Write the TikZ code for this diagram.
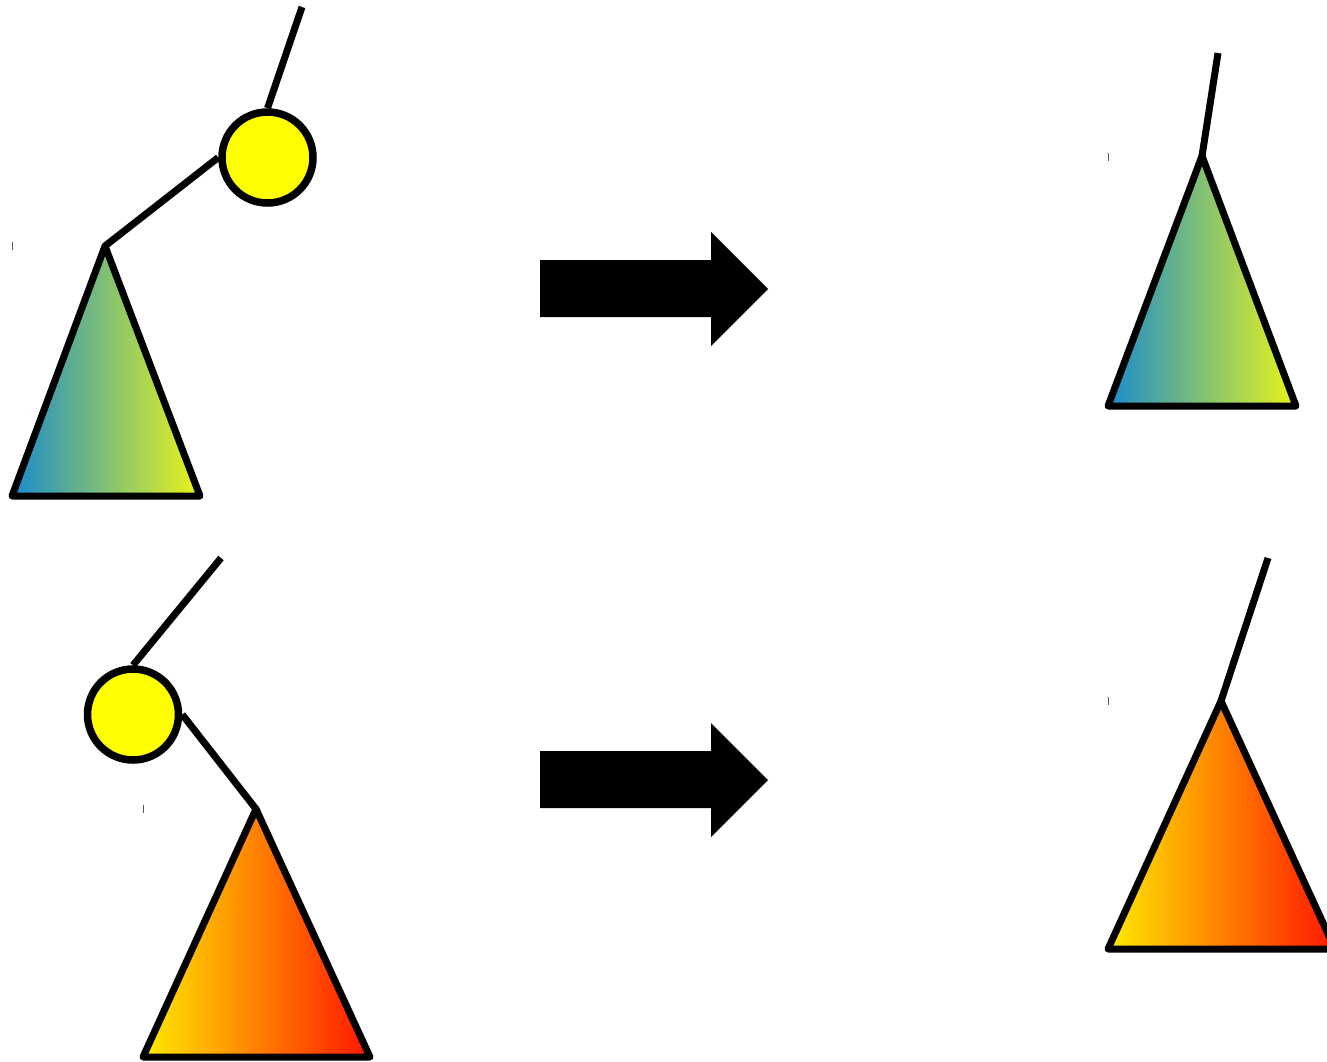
\documentclass[tikz,border=0pt]{standalone}
\definecolor{tblue}{HTML}{1A8CCB}
\definecolor{tgreen}{HTML}{80C75E}
\definecolor{tyellow}{HTML}{EAF41A}
\definecolor{oyellow}{HTML}{FFEA00}
\definecolor{oorange}{HTML}{FF8C00}
\definecolor{ored}{HTML}{FF1600}
\definecolor{ballyellow}{HTML}{FFFF00}
\tikzset{
  edge/.style={line width=7pt, line cap=butt},
  ball/.style={circle, draw, fill=ballyellow, line width=7.5pt, inner sep=0pt, minimum size=91pt},
  bgtri/.style={draw, line width=7pt, line join=round, left color=tblue, middle color=tgreen, right color=tyellow},
  ortri/.style={draw, line width=7pt, line join=round, left color=oyellow, middle color=oorange, right color=ored},
  bigarrow/.style={fill=black},
  tick/.style={draw=gray!70!black, line width=1pt}
}
\begin{document}
\begin{tikzpicture}[x=1pt, y=-1pt]
\useasboundingbox (0,0) rectangle (1327,1061);
\clip (0,0) rectangle (1327,1061);

% ---------- top left ----------
\coordinate (tlend) at (302,7);
\node[ball] (tlball) at (267.5,157.5) {};
\coordinate (tlapex) at (105,246);
\coordinate (tlbl) at (12,496);
\coordinate (tlbr) at (200,496);
\draw[edge] (tlend) -- (tlball.north);
\draw[edge] (tlball.west) -- (tlapex);
\path[bgtri] (tlapex) -- (tlbr) -- (tlbl) -- cycle;
\draw[tick] (12,242) -- (12,250);

% ---------- top right ----------
\coordinate (trend) at (1218,53);
\coordinate (trapex) at (1202,156);
\coordinate (trbl) at (1108,406);
\coordinate (trbr) at (1296,406);
\draw[edge] (trend) -- (trapex);
\path[bgtri] (trapex) -- (trbr) -- (trbl) -- cycle;
\draw[tick] (1108,153) -- (1108,161);

% ---------- bottom left ----------
\coordinate (blend) at (221,558);
\node[ball] (blball) at (133,714.5) {};
\coordinate (blapex) at (256,809);
\coordinate (blbl) at (143,1057);
\coordinate (blbr) at (370,1057);
\draw[edge] (blend) -- (blball.north);
\draw[edge] (blball.east) -- (blapex);
\path[ortri] (blapex) -- (blbr) -- (blbl) -- cycle;
\draw[tick] (143,805) -- (143,813);

% ---------- bottom right ----------
\coordinate (brend) at (1268,558);
\coordinate (brapex) at (1221,701);
\coordinate (brbl) at (1108,949);
\coordinate (brbr) at (1335,949);
\draw[edge] (brend) -- (brapex);
\path[ortri] (brapex) -- (brbr) -- (brbl) -- cycle;
\draw[tick] (1108,697) -- (1108,705);

% ---------- arrows ----------
\coordinate (a1tip) at (768,289);
\fill[bigarrow] (540,260) -- (711,260) -- (711,232) -- (a1tip) -- (711,346) -- (711,317) -- (540,317) -- cycle;
\coordinate (a2tip) at (768,780);
\fill[bigarrow] (540,751) -- (711,751) -- (711,723) -- (a2tip) -- (711,837) -- (711,808) -- (540,808) -- cycle;
\end{tikzpicture}
\end{document}
